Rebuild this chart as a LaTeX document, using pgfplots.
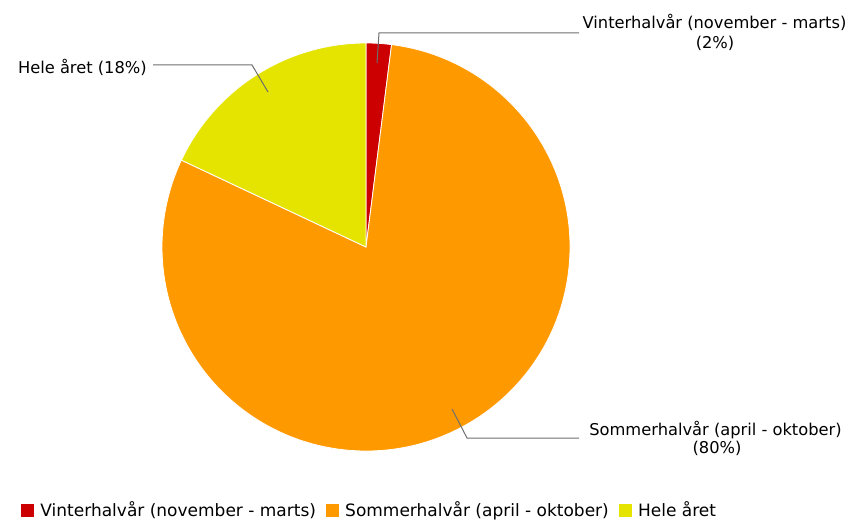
\documentclass[border=0pt]{standalone}
\usepackage{pgfplots}
\usepackage{pgfplotstable}
\pgfplotsset{compat=1.18}
\usepackage{fontspec}
\setmainfont{DejaVu Sans}
\definecolor{cRed}{RGB}{204,0,0}
\definecolor{cOrange}{RGB}{255,153,0}
\definecolor{cYellow}{RGB}{229,228,0}
\definecolor{cLine}{RGB}{110,110,110}

\pgfplotstableread{
label value
Vinter 2
Sommer 80
Hele 18
}\piedata

\begin{document}
\begin{tikzpicture}
\pgfplotstablegetelem{0}{value}\of\piedata\let\vA\pgfplotsretval
\pgfplotstablegetelem{1}{value}\of\piedata\let\vB\pgfplotsretval
\pgfplotstablegetelem{2}{value}\of\piedata\let\vC\pgfplotsretval
\pgfmathsetmacro\aZ{90}
\pgfmathsetmacro\aA{\aZ-3.6*\vA}
\pgfmathsetmacro\aB{\aA-3.6*\vB}
\pgfmathsetmacro\aC{\aB-3.6*\vC}
\begin{axis}[
  x=0.75pt, y=0.75pt, y dir=reverse,
  xmin=0, xmax=860, ymin=0, ymax=520,
  hide axis, clip=false, scale only axis,
  anchor=south west, at={(0,0)},
  legend style={at={(axis cs:21,510)}, anchor=west, draw=none, fill=none,
    inner sep=0pt, legend columns=3, font=\fontsize{12.75pt}{15pt}\selectfont,
    /tikz/every odd column/.append style={column sep=4pt},
    /tikz/every even column/.append style={column sep=6.5pt},
    nodes={inner sep=1pt}},
  legend image code/.code={\fill[#1] (0pt,-4.5pt) rectangle (9pt,4.5pt);},
]
\addlegendimage{cRed}\addlegendentry{Vinterhalvår (november - marts)}
\addlegendimage{cOrange}\addlegendentry{Sommerhalvår (april - oktober)}
\addlegendimage{cYellow}\addlegendentry{Hele året}

\coordinate (TL) at (axis cs:0,0);
\coordinate (BR) at (axis cs:860,520);

\fill[cRed, draw=white, line width=0.6pt] (axis cs:366,247) -- ++(\aZ:153pt) arc[start angle=\aZ, end angle=\aA, radius=153pt] -- cycle;
\fill[cOrange, draw=white, line width=0.6pt] (axis cs:366,247) -- ++(\aA:153pt) arc[start angle=\aA, end angle=\aB, radius=153pt] -- cycle;
\fill[cYellow, draw=white, line width=0.6pt] (axis cs:366,247) -- ++(\aB:153pt) arc[start angle=\aB, end angle=\aC, radius=153pt] -- cycle;

% leader lines
\draw[cLine, line width=0.75pt] (axis cs:377,63) -- (axis cs:379,33) -- (axis cs:579,33);
\draw[cLine, line width=0.75pt] (axis cs:268,92) -- (axis cs:252,65) -- (axis cs:153,65);
\draw[cLine, line width=0.75pt] (axis cs:452,409) -- (axis cs:467,438) -- (axis cs:579,438);

\begin{scope}[every node/.style={inner sep=0pt, font=\fontsize{12.2pt}{14pt}\selectfont}]
\node[anchor=center] at (axis cs:714.5,22) {Vinterhalvår (november - marts)};
\node[anchor=center] at (axis cs:715,43) {(2\%)};
\node[anchor=center] at (axis cs:715.5,430) {Sommerhalvår (april - oktober)};
\node[anchor=center] at (axis cs:717,448) {(80\%)};
\node[anchor=east] at (axis cs:147,67) {Hele året (18\%)};
\end{scope}
\end{axis}
\pgfresetboundingbox
\path[use as bounding box] (TL) rectangle (BR);
\end{tikzpicture}
\end{document}
